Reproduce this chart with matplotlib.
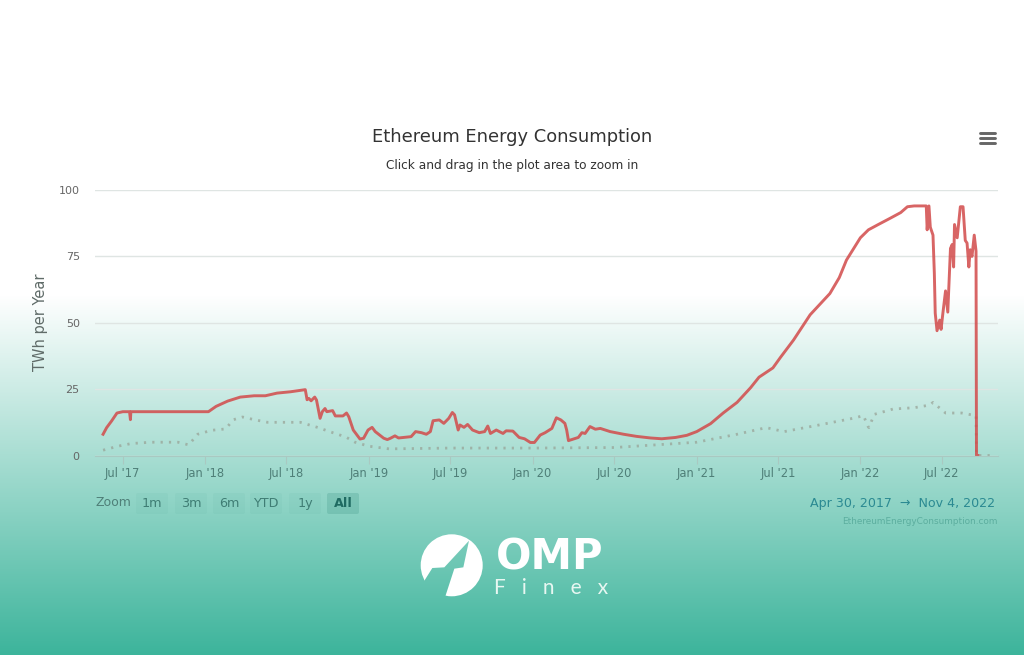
import numpy as np
import matplotlib
matplotlib.use('Agg')
import matplotlib.dates as mdates
from matplotlib import pyplot as plt
from matplotlib.patches import Circle, Polygon, FancyBboxPatch

title = 'Ethereum Energy Consumption'
subtitle = 'Click and drag in the plot area to zoom in'
y_ticks = [0, 25, 50, 75, 100]
x_tick_dates = ['2017-07-01', '2018-01-01', '2018-07-01', '2019-01-01', '2019-07-01', '2020-01-01',
                '2020-07-01', '2021-01-01', '2021-07-01', '2022-01-01', '2022-07-01']
x_tick_labels = ["Jul '17", "Jan '18", "Jul '18", "Jan '19", "Jul '19", "Jan '20",
                 "Jul '20", "Jan '21", "Jul '21", "Jan '22", "Jul '22"]
zoom_buttons = ['1m', '3m', '6m', 'YTD', '1y', 'All']

# main estimate (red line)
est_dates = ['2017-05-18', '2017-05-26', '2017-06-06', '2017-06-18', '2017-07-01', '2017-07-16', '2017-07-18',
             '2017-07-19', '2017-07-21', '2017-10-01', '2018-01-08', '2018-01-25', '2018-02-20', '2018-03-20',
             '2018-04-20', '2018-05-15', '2018-06-10', '2018-07-10', '2018-08-12', '2018-08-16', '2018-08-20',
             '2018-08-25', '2018-09-02', '2018-09-06', '2018-09-14', '2018-09-19', '2018-09-25', '2018-09-29',
             '2018-10-12', '2018-10-18', '2018-11-04', '2018-11-12', '2018-11-17', '2018-11-27', '2018-12-12',
             '2018-12-20', '2018-12-30', '2019-01-08', '2019-01-15', '2019-02-03', '2019-02-11', '2019-02-18',
             '2019-02-28', '2019-03-08', '2019-04-05', '2019-04-15', '2019-04-28', '2019-05-09', '2019-05-18',
             '2019-05-24', '2019-06-07', '2019-06-17', '2019-06-28', '2019-07-06', '2019-07-11', '2019-07-19',
             '2019-07-23', '2019-08-01', '2019-08-09', '2019-08-20', '2019-09-04', '2019-09-16', '2019-09-23',
             '2019-09-29', '2019-10-12', '2019-10-27', '2019-11-03', '2019-11-18', '2019-12-02', '2019-12-14',
             '2019-12-27', '2020-01-05', '2020-01-18', '2020-01-29', '2020-02-13', '2020-02-23', '2020-03-04',
             '2020-03-13', '2020-03-17', '2020-03-21', '2020-04-01', '2020-04-12', '2020-04-20', '2020-04-27',
             '2020-05-08', '2020-05-20', '2020-05-31', '2020-06-22', '2020-07-22', '2020-08-20', '2020-09-20',
             '2020-10-15', '2020-11-15', '2020-12-10', '2021-01-01', '2021-02-01', '2021-03-01', '2021-04-01',
             '2021-05-01', '2021-05-20', '2021-06-20', '2021-07-07', '2021-08-05', '2021-09-11', '2021-10-25',
             '2021-11-15', '2021-12-01', '2022-01-01', '2022-01-19', '2022-02-10', '2022-03-09', '2022-04-01',
             '2022-04-16', '2022-05-01', '2022-05-28', '2022-05-30', '2022-06-03', '2022-06-06', '2022-06-12',
             '2022-06-15', '2022-06-17', '2022-06-21', '2022-06-27', '2022-06-30', '2022-07-04', '2022-07-10',
             '2022-07-15', '2022-07-21', '2022-07-25', '2022-07-28', '2022-07-30', '2022-08-05', '2022-08-12',
             '2022-08-18', '2022-08-23', '2022-08-27', '2022-08-31', '2022-09-03', '2022-09-07', '2022-09-12',
             '2022-09-16', '2022-09-17', '2022-09-20']
est_values = [8, 10.5, 13, 16, 16.5, 16.5, 13.5,
              16.5, 16.5, 16.5, 16.5, 18.5, 20.5, 22,
              22.5, 22.5, 23.5, 24, 24.8, 21, 21.5,
              20.6, 22, 20.9, 14, 16.5, 17.7, 16.5,
              16.9, 14.9, 14.9, 16, 14.6, 9.6, 6.2,
              6.5, 9.6, 10.6, 9, 6.5, 6, 6.5,
              7.4, 6.6, 7.1, 9, 8.6, 8, 9,
              13.1, 13.4, 12.1, 14, 16.2, 15.3, 9.6,
              11.5, 10.6, 11.7, 9.6, 8.6, 9, 11.1,
              8.3, 9.6, 8.3, 9.3, 9.2, 6.8, 6.3,
              4.9, 4.9, 7.7, 8.6, 10.2, 14.2, 13.4,
              12.1, 9.6, 5.6, 6.2, 6.8, 8.6, 8.3,
              10.9, 9.9, 10.2, 9, 8, 7.2, 6.6,
              6.3, 6.8, 7.6, 9, 12, 16, 20,
              25.5, 29.5, 33, 37, 43.5, 53, 61,
              67, 73.6, 82, 85, 87, 89.4, 91.5,
              93.7, 94, 94, 85, 94, 86, 83,
              68.7, 53.6, 47, 51, 47.5, 53.5, 62,
              54, 78, 79.5, 71, 87, 82, 93.7,
              93.7, 81, 80, 71, 77.5, 75, 83,
              77, 0, 0]

# lower bound (dotted line)
low_dates = ['2017-05-18', '2017-06-20', '2017-07-20', '2017-09-01', '2017-11-01', '2017-11-25', '2017-12-15',
             '2018-01-15', '2018-02-15', '2018-03-05', '2018-03-25', '2018-04-20', '2018-05-20', '2018-06-20',
             '2018-08-01', '2018-09-10', '2018-10-05', '2018-11-10', '2018-12-01', '2019-01-01', '2019-02-15',
             '2019-07-01', '2020-01-01', '2020-07-01', '2021-01-01', '2021-04-01', '2021-06-05', '2021-07-15',
             '2021-10-01', '2021-12-15', '2022-01-08', '2022-01-18', '2022-01-20', '2022-02-01', '2022-03-15',
             '2022-05-01', '2022-06-05', '2022-06-12', '2022-07-10', '2022-08-15', '2022-09-16', '2022-09-17',
             '2022-10-18']
low_values = [2, 3.5, 4.5, 5, 5, 4, 8,
              9.5, 10, 13.5, 14.5, 13.5, 12.5, 12.5,
              12.5, 10.5, 9, 7, 5, 3.5, 2.5,
              2.8, 2.8, 3, 5, 8, 10.5, 9,
              11.5, 14, 15, 11, 10.5, 15.5, 17.5,
              18, 19, 20, 16, 16, 15, 0,
              0]

plt.rcParams['font.family'] = ['DejaVu Sans']

fig = plt.figure(figsize=(10.24, 6.55), dpi=100)

# page background + chart furniture, in pixel coordinates
bg = fig.add_axes([0, 0, 1, 1], zorder=0)
bg.set_xlim(0, 1024)
bg.set_ylim(655, 0)
bg.axis('off')
rows = np.clip((np.arange(655) - 295) / 360, 0, 1)[:, None, None]
gradient = (1 - rows) * np.array([1, 1, 1]) + rows * np.array([60, 180, 155]) / 255
bg.imshow(gradient, extent=(0, 1024, 655, 0), aspect='auto')

bg.text(512.5, 137, title, ha='center', va='center', fontsize=12.85, color='#333333')
bg.text(512.5, 165.5, subtitle, ha='center', va='center', fontsize=8.7, color='#333333')
bg.text(40, 322, 'TWh per Year', rotation=90, ha='center', va='center', fontsize=10.5, color='#5f6b68')

for y in [133, 138.3, 143.4]:
    bg.plot([979.5, 994.5], [y, y], color='#666666', lw=2.1, solid_capstyle='round')

bg.text(96, 503, 'Zoom', ha='left', va='center', fontsize=9, color='#4f7f78')
centers = [152, 191, 229, 266, 305, 343]
for name, cx in zip(zoom_buttons, centers):
    active = name == 'All'
    box = FancyBboxPatch((cx - 16, 493), 32, 21, boxstyle='round,pad=0,rounding_size=2',
                         fc='#4a9f90', alpha=0.3 if active else 0.07, lw=0)
    bg.add_patch(box)
    bg.text(cx, 503.5, name, ha='center', va='center', fontsize=9.2,
            color='#1f6b62' if active else '#3f7d74', fontweight='bold' if active else 'normal')

bg.text(995, 503, 'Apr 30, 2017  \u2192  Nov 4, 2022', ha='right', va='center', fontsize=9.1, color='#2b8a92')
bg.text(998, 521, 'EthereumEnergyConsumption.com', ha='right', va='center', fontsize=6.4, color='#5cae9f')

# OMP Finex logo: white disc, cut shape shows the background through
bg.add_patch(Circle((451.7, 565.3), 31, fc='white', lw=0, zorder=2))
cut = [(162, 38), (88, 118), (52, 120), (30, 155), (5, 205), (90, 208), (118, 122), (145, 118)]
cut_patch = Polygon([(415 + a / 3, 528 + b / 3) for a, b in cut], transform=bg.transData, fc='none', lw=0)
bg.add_patch(cut_patch)
logo_cut = bg.imshow(gradient, extent=(0, 1024, 655, 0), aspect='auto', zorder=3)
logo_cut.set_clip_path(cut_patch)
bg.set_xlim(0, 1024)
bg.set_ylim(655, 0)
bg.text(550, 557, 'OMP', ha='center', va='center', fontsize=30, fontweight='bold', color='white', zorder=4)
bg.text(551, 588, 'F   i   n   e   x', ha='center', va='center', fontsize=15, color='#e8f7f2',
        family='Lato', zorder=4)

# chart
ax = fig.add_axes([95 / 1024, (655 - 455.5) / 655, 903 / 1024, 265.5 / 655], zorder=1)
ax.patch.set_alpha(0)

ax.plot(mdates.datestr2num(low_dates), low_values, color='#99a498', lw=2, alpha=0.75,
        linestyle=(0, (0.8, 2.2)))
ax.plot(mdates.datestr2num(est_dates), est_values, color='#d24a4a', lw=2.1, alpha=0.85,
        solid_joinstyle='round')

ax.set_xlim(mdates.datestr2num('2017-04-30'), mdates.datestr2num('2022-11-04'))
ax.set_ylim(0, 100)
ax.set_yticks(y_ticks)
ax.set_xticks(mdates.datestr2num(x_tick_dates))
ax.set_xticklabels(x_tick_labels)
ax.grid(axis='y', color='#dfe5e3', lw=1)
ax.set_axisbelow(True)
for side in ['top', 'left', 'right']:
    ax.spines[side].set_visible(False)
ax.spines['bottom'].set_color('#a9c9c1')
ax.tick_params(axis='y', length=0, pad=11, labelsize=8, labelcolor='#666666')
ax.tick_params(axis='x', length=6, width=0.8, color='#a9c9c1', pad=2, labelsize=8.3, labelcolor='#4f7f78')

fig.savefig('out.png', dpi=100)
